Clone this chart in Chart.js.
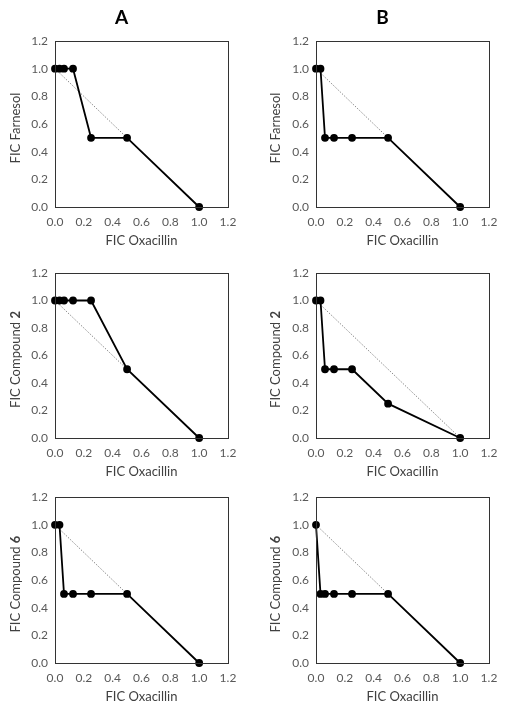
<!DOCTYPE html>
<html>
<head>
<meta charset="utf-8">
<script src="https://cdn.jsdelivr.net/npm/chart.js@4"></script>
<style>
  html, body { margin: 0; padding: 0; background: #fff; }
  #wrap { position: relative; width: 506px; height: 710px; overflow: hidden; }
  .cell { position: absolute; width: 253px; }
</style>
</head>
<body>
<div id="wrap">
  <div class="cell" style="left:0;top:0;height:252px"><canvas id="cA1"></canvas></div>
  <div class="cell" style="left:253px;top:0;height:252px"><canvas id="cB1"></canvas></div>
  <div class="cell" style="left:0;top:252px;height:231px"><canvas id="cA2"></canvas></div>
  <div class="cell" style="left:253px;top:252px;height:231px"><canvas id="cB2"></canvas></div>
  <div class="cell" style="left:0;top:483px;height:225px"><canvas id="cA3"></canvas></div>
  <div class="cell" style="left:253px;top:483px;height:225px"><canvas id="cB3"></canvas></div>
</div>
<script>
// --- data: FIC values ---
const xA1 = [0, 0.03125, 0.0625, 0.125, 0.25, 0.5, 1];
const yA1 = [1, 1, 1, 1, 0.5, 0.5, 0];
const xB1 = [0, 0.03125, 0.0625, 0.125, 0.25, 0.5, 1];
const yB1 = [1, 1, 0.5, 0.5, 0.5, 0.5, 0];
const xA2 = [0, 0.03125, 0.0625, 0.125, 0.25, 0.5, 1];
const yA2 = [1, 1, 1, 1, 1, 0.5, 0];
const xB2 = [0, 0.03125, 0.0625, 0.125, 0.25, 0.5, 1];
const yB2 = [1, 1, 0.5, 0.5, 0.5, 0.25, 0];
const xA3 = [0, 0.03125, 0.0625, 0.125, 0.25, 0.5, 1];
const yA3 = [1, 1, 0.5, 0.5, 0.5, 0.5, 0];
const xB3 = [0, 0.03125, 0.0625, 0.125, 0.25, 0.5, 1];
const yB3 = [1, 0.5, 0.5, 0.5, 0.5, 0.5, 0];

// additivity line
const xAdd = [0, 1];
const yAdd = [1, 0];

const tickLabels = ['0.0', '0.2', '0.4', '0.6', '0.8', '1.0', '1.2'];
const xTitle = 'FIC Oxacillin';

const FONT = 'Lato, "Open Sans", sans-serif';

// frame round the plot area + y title with bold part + panel letter
const decor = {
    id: 'decor',
    afterDraw(chart, args, opts) {
        const ctx = chart.ctx;
        const a = chart.chartArea;
        ctx.save();
        ctx.strokeStyle = '#333';
        ctx.lineWidth = 1;
        ctx.strokeRect(Math.round(a.left) + 0.5, Math.round(a.top) + 0.5,
            Math.round(a.right - a.left), Math.round(a.bottom - a.top));

        // y title
        const parts = opts.yTitle;
        ctx.fillStyle = '#404040';
        ctx.textBaseline = 'middle';
        let total = 0;
        parts.forEach(p => {
            ctx.font = (p.bold ? 'bold ' : '') + '13px ' + FONT;
            p.w = ctx.measureText(p.text).width;
            total += p.w;
        });
        ctx.translate(opts.titleX, (a.top + a.bottom) / 2 + 4);
        ctx.rotate(-Math.PI / 2);
        let x = -total / 2;
        parts.forEach(p => {
            ctx.font = (p.bold ? 'bold ' : '') + '13px ' + FONT;
            ctx.textAlign = 'left';
            ctx.fillText(p.text, x, 0);
            x += p.w;
        });
        ctx.restore();

        if (opts.letter) {
            ctx.save();
            ctx.font = 'bold 19px ' + FONT;
            ctx.fillStyle = '#000';
            ctx.textAlign = 'center';
            ctx.textBaseline = 'middle';
            ctx.fillText(opts.letter, (a.left + a.right) / 2 - 20, 18);
            ctx.restore();
        }
    }
};

function makePanel(id, xs, ys, yTitle, letter, colB, padTop) {
    const pts = xs.map((x, i) => ({ x: x, y: ys[i] }));
    const add = xAdd.map((x, i) => ({ x: x, y: yAdd[i] }));
    const yAxisW = colB ? 63 : 55;
    const padRight = colB ? 17 : 25;
    new Chart(document.getElementById(id), {
        type: 'scatter',
        data: {
            datasets: [{
                data: pts,
                showLine: true,
                borderColor: '#000',
                backgroundColor: '#000',
                borderWidth: 1.8,
                pointRadius: 3,
                pointHoverRadius: 3,
                clip: false,
                order: 0
            }, {
                data: add,
                showLine: true,
                borderColor: '#8a8a8a',
                borderWidth: 1,
                borderDash: [1.5, 1.5],
                pointRadius: 0,
                order: 1
            }]
        },
        options: {
            responsive: true,
            maintainAspectRatio: false,
            animation: false,
            layout: { padding: { top: padTop, right: padRight, left: 0, bottom: 0 } },
            plugins: {
                legend: { display: false },
                tooltip: { enabled: false },
                decor: { yTitle: yTitle, letter: letter, titleX: colB ? 23 : 16 }
            },
            scales: {
                x: {
                    type: 'linear',
                    min: 0,
                    max: 1.2,
                    grid: { display: false, drawTicks: false },
                    border: { display: false },
                    ticks: {
                        stepSize: 0.2,
                        padding: 8,
                        color: '#595959',
                        font: { family: FONT, size: 12 },
                        callback: (v, i) => tickLabels[i]
                    },
                    title: {
                        display: true,
                        text: xTitle,
                        color: '#404040',
                        font: { family: FONT, size: 13 },
                        padding: { top: 0, bottom: 3 }
                    },
                    afterFit: s => { s.height = 45; }
                },
                y: {
                    type: 'linear',
                    min: 0,
                    max: 1.2,
                    grid: { display: false, drawTicks: false },
                    border: { display: false },
                    ticks: {
                        stepSize: 0.2,
                        padding: 7,
                        color: '#595959',
                        font: { family: FONT, size: 12 },
                        callback: (v, i) => tickLabels[i]
                    },
                    afterFit: s => { s.width = yAxisW; }
                }
            }
        },
        plugins: [decor]
    });
}

makePanel('cA1', xA1, yA1, [{ text: 'FIC Farnesol' }], 'A', false, 41);
makePanel('cB1', xB1, yB1, [{ text: 'FIC Farnesol' }], 'B', true, 41);
makePanel('cA2', xA2, yA2, [{ text: 'FIC Compound ' }, { text: '2', bold: true }], null, false, 21);
makePanel('cB2', xB2, yB2, [{ text: 'FIC Compound ' }, { text: '2', bold: true }], null, true, 21);
makePanel('cA3', xA3, yA3, [{ text: 'FIC Compound ' }, { text: '6', bold: true }], null, false, 14);
makePanel('cB3', xB3, yB3, [{ text: 'FIC Compound ' }, { text: '6', bold: true }], null, true, 14);
</script>
</body>
</html>
